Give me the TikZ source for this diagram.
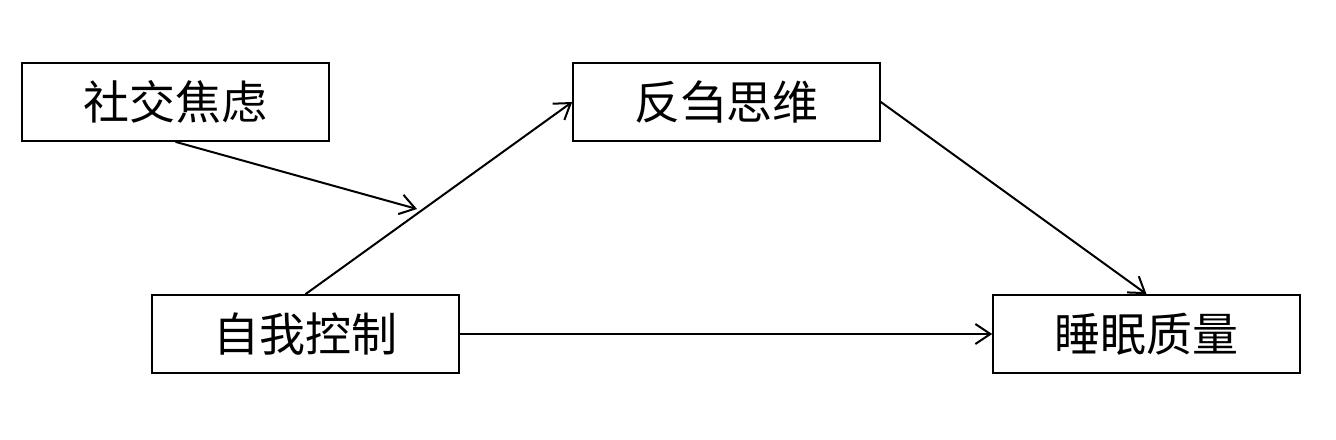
\documentclass[tikz,border=0pt]{standalone}
\usepackage{fontspec}
\newfontfamily\cjk{Noto Sans CJK SC}
\usetikzlibrary{arrows.meta}
\begin{document}
\begin{tikzpicture}[x=0.5pt,y=-0.5pt,
  box/.style={draw,line width=0.85pt,minimum width=153.5pt,minimum height=39pt,inner sep=0pt,font=\cjk\fontsize{23}{27}\selectfont},
  conn/.style={line width=1pt,-{Straight Barb[length=7.5pt,width=10pt,line width=1pt]}}]
\useasboundingbox (0,0) rectangle (1336,439);
\node[box] (sa) at (175.5,102) {社交焦虑};
\node[box] (rm) at (726.5,102) {反刍思维};
\node[box] (sc) at (305.5,334) {自我控制};
\node[box] (sq) at (1146.5,334) {睡眠质量};
\coordinate (m) at (417,209);
\draw[conn] (sc.north) -- (rm.west);
\draw[conn] (sa.south) -- (m);
\draw[conn] (rm.east) -- (sq.north);
\draw[conn] (sc.east) -- (sq.west);
\end{tikzpicture}
\end{document}
